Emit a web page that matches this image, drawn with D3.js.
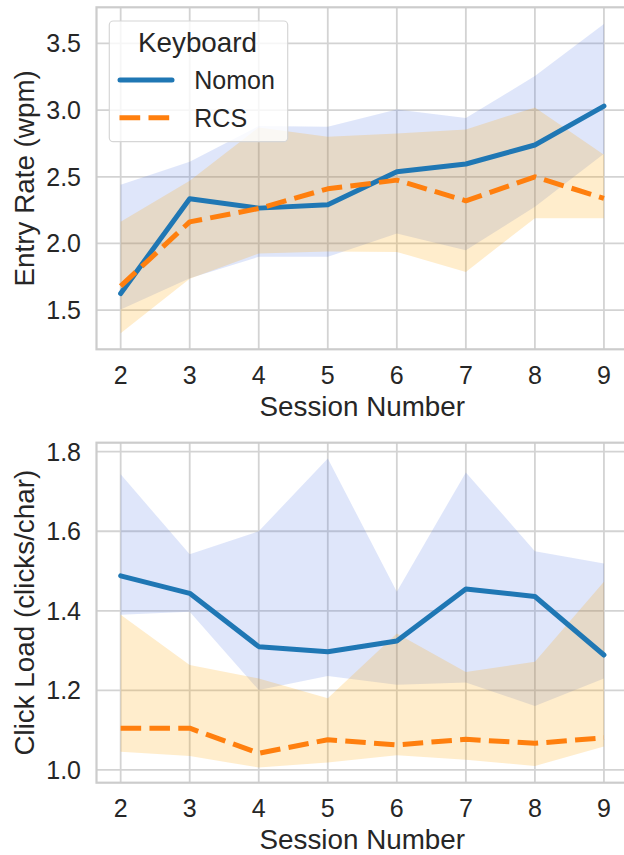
<!DOCTYPE html>
<html>
<head>
<meta charset="utf-8">
<script src="https://cdn.jsdelivr.net/npm/d3@7"></script>
<style>
  html, body { margin: 0; padding: 0; background: #ffffff; }
  svg { display: block; }
  text { font-family: "Liberation Sans", Arial, sans-serif; fill: #262626; }
</style>
</head>
<body>
<svg id="chart" width="624" height="855"></svg>
<script>
// Sessions on the x axis
const sessions = [2, 3, 4, 5, 6, 7, 8, 9];
const keyboards = ["Nomon", "RCS"];

// Entry rate (wpm): mean and confidence band per keyboard
const entryNomon      = [1.625, 2.336, 2.265, 2.290, 2.538, 2.596, 2.738, 3.030];
const entryNomonLow   = [1.505, 1.740, 1.900, 1.900, 2.075, 1.950, 2.275, 2.672];
const entryNomonHigh  = [2.440, 2.612, 2.880, 2.875, 3.005, 2.940, 3.255, 3.645];
const entryRCS        = [1.680, 2.162, 2.262, 2.410, 2.475, 2.320, 2.500, 2.338];
const entryRCSLow     = [1.327, 1.735, 1.925, 1.940, 1.937, 1.787, 2.190, 2.190];
const entryRCSHigh    = [2.163, 2.470, 2.870, 2.800, 2.825, 2.855, 3.020, 2.665];

// Click load (clicks/char): mean and confidence band per keyboard
const clickNomon      = [1.488, 1.444, 1.310, 1.297, 1.324, 1.455, 1.436, 1.289];
const clickNomonLow   = [1.390, 1.398, 1.201, 1.236, 1.214, 1.220, 1.161, 1.230];
const clickNomonHigh  = [1.743, 1.542, 1.600, 1.783, 1.448, 1.748, 1.550, 1.519];
const clickRCS        = [1.105, 1.105, 1.042, 1.076, 1.063, 1.077, 1.067, 1.081];
const clickRCSLow     = [1.046, 1.035, 1.006, 1.019, 1.037, 1.026, 1.010, 1.059];
const clickRCSHigh    = [1.390, 1.264, 1.230, 1.180, 1.343, 1.246, 1.272, 1.473];

// Tick values
const xTicks = sessions;
const entryTicks = [1.5, 2.0, 2.5, 3.0, 3.5];
const clickTicks = [1.0, 1.2, 1.4, 1.6, 1.8];

const lineColor = { Nomon: "#1f77b4", RCS: "#ff7f0e" };
const bandColor = { Nomon: "rgb(65,105,225)", RCS: "rgb(255,165,0)" };
const bandOpacity = { Nomon: 0.17, RCS: 0.2 };

const svg = d3.select("#chart");
const gridColor = "#d3d3d3";
const tickFont = 25;
const labelFont = 27.8;

function panel(cfg) {
  const { top, bottom, yDomain, yTicks, yLabel, series } = cfg;
  const left = 96.5, right = 628.1;

  const x = d3.scaleLinear().domain([1.65, 9.35]).range([left, right]);
  const y = d3.scaleLinear().domain(yDomain).range([bottom, top]);

  const g = svg.append("g");

  // grid
  g.append("g").selectAll("line.v").data(xTicks).join("line")
    .attr("x1", d => x(d)).attr("x2", d => x(d))
    .attr("y1", top).attr("y2", bottom)
    .attr("stroke", gridColor).attr("stroke-width", 1.8);
  g.append("g").selectAll("line.h").data(yTicks).join("line")
    .attr("x1", left).attr("x2", right)
    .attr("y1", d => y(d)).attr("y2", d => y(d))
    .attr("stroke", gridColor).attr("stroke-width", 1.8);

  // confidence bands
  series.forEach(s => {
    const pts = sessions.map((d, i) => ({ x: d, lo: s.low[i], hi: s.high[i] }));
    g.append("path")
      .datum(pts)
      .attr("d", d3.area().x(d => x(d.x)).y0(d => y(d.lo)).y1(d => y(d.hi)))
      .attr("fill", bandColor[s.name])
      .attr("fill-opacity", bandOpacity[s.name])
      .attr("stroke", "none");
  });

  // mean lines
  series.forEach(s => {
    const pts = sessions.map((d, i) => ({ x: d, v: s.mean[i] }));
    const p = g.append("path")
      .datum(pts)
      .attr("d", d3.line().x(d => x(d.x)).y(d => y(d.v)))
      .attr("fill", "none")
      .attr("stroke", lineColor[s.name])
      .attr("stroke-width", 5)
      .attr("stroke-linejoin", "round");
    if (s.name === "RCS") {
      p.attr("stroke-dasharray", "20.5,8.3").attr("stroke-linecap", "butt");
    } else {
      p.attr("stroke-linecap", "round");
    }
  });

  // frame
  g.append("rect")
    .attr("x", left).attr("y", top)
    .attr("width", right - left).attr("height", bottom - top)
    .attr("fill", "none").attr("stroke", "#cccccc").attr("stroke-width", 2.2);

  // y tick labels
  g.append("g").selectAll("text").data(yTicks).join("text")
    .attr("x", 81).attr("y", d => y(d))
    .attr("dy", "0.36em")
    .attr("text-anchor", "end")
    .attr("font-size", tickFont)
    .text(d3.format(".1f"));

  // x tick labels
  g.append("g").selectAll("text").data(xTicks).join("text")
    .attr("x", d => x(d)).attr("y", bottom + 34.3)
    .attr("text-anchor", "middle")
    .attr("font-size", tickFont)
    .text(d => d);

  // axis titles
  g.append("text")
    .attr("x", (left + right) / 2).attr("y", bottom + 66.5)
    .attr("text-anchor", "middle")
    .attr("font-size", labelFont)
    .text("Session Number");
  g.append("text")
    .attr("transform", `translate(33.5,${(top + bottom) / 2}) rotate(-90)`)
    .attr("text-anchor", "middle")
    .attr("font-size", labelFont)
    .text(yLabel);

  return { x, y };
}

panel({
  top: 7.3, bottom: 349.3,
  yDomain: [1.2066, 3.7706],
  yTicks: entryTicks,
  yLabel: "Entry Rate (wpm)",
  series: [
    { name: "Nomon", mean: entryNomon, low: entryNomonLow, high: entryNomonHigh },
    { name: "RCS", mean: entryRCS, low: entryRCSLow, high: entryRCSHigh }
  ]
});

panel({
  top: 442.7, bottom: 782.7,
  yDomain: [0.968, 1.8226],
  yTicks: clickTicks,
  yLabel: "Click Load (clicks/char)",
  series: [
    { name: "Nomon", mean: clickNomon, low: clickNomonLow, high: clickNomonHigh },
    { name: "RCS", mean: clickRCS, low: clickRCSLow, high: clickRCSHigh }
  ]
});

// legend
const lg = svg.append("g");
lg.append("rect")
  .attr("x", 109.3).attr("y", 21)
  .attr("width", 178.4).attr("height", 120.7)
  .attr("rx", 4).attr("ry", 4)
  .attr("fill", "#ffffff").attr("fill-opacity", 0.8)
  .attr("stroke", "#d6d6d6").attr("stroke-width", 1.2);
lg.append("text")
  .attr("x", 197.5).attr("y", 51.7)
  .attr("text-anchor", "middle")
  .attr("font-size", labelFont)
  .text("Keyboard");
const entryY = { Nomon: 80, RCS: 117.7 };
keyboards.forEach(k => {
  const l = lg.append("line")
    .attr("x1", 120).attr("x2", 172)
    .attr("y1", entryY[k]).attr("y2", entryY[k])
    .attr("stroke", lineColor[k]).attr("stroke-width", 5);
  if (k === "RCS") {
    l.attr("x1", 119.5).attr("x2", 169.5)
     .attr("stroke-dasharray", "20.7,8.3").attr("stroke-linecap", "butt");
  } else {
    l.attr("stroke-linecap", "round");
  }
  lg.append("text")
    .attr("x", 194.3).attr("y", entryY[k])
    .attr("dy", "0.36em")
    .attr("font-size", tickFont)
    .text(k);
});
</script>
</body>
</html>
